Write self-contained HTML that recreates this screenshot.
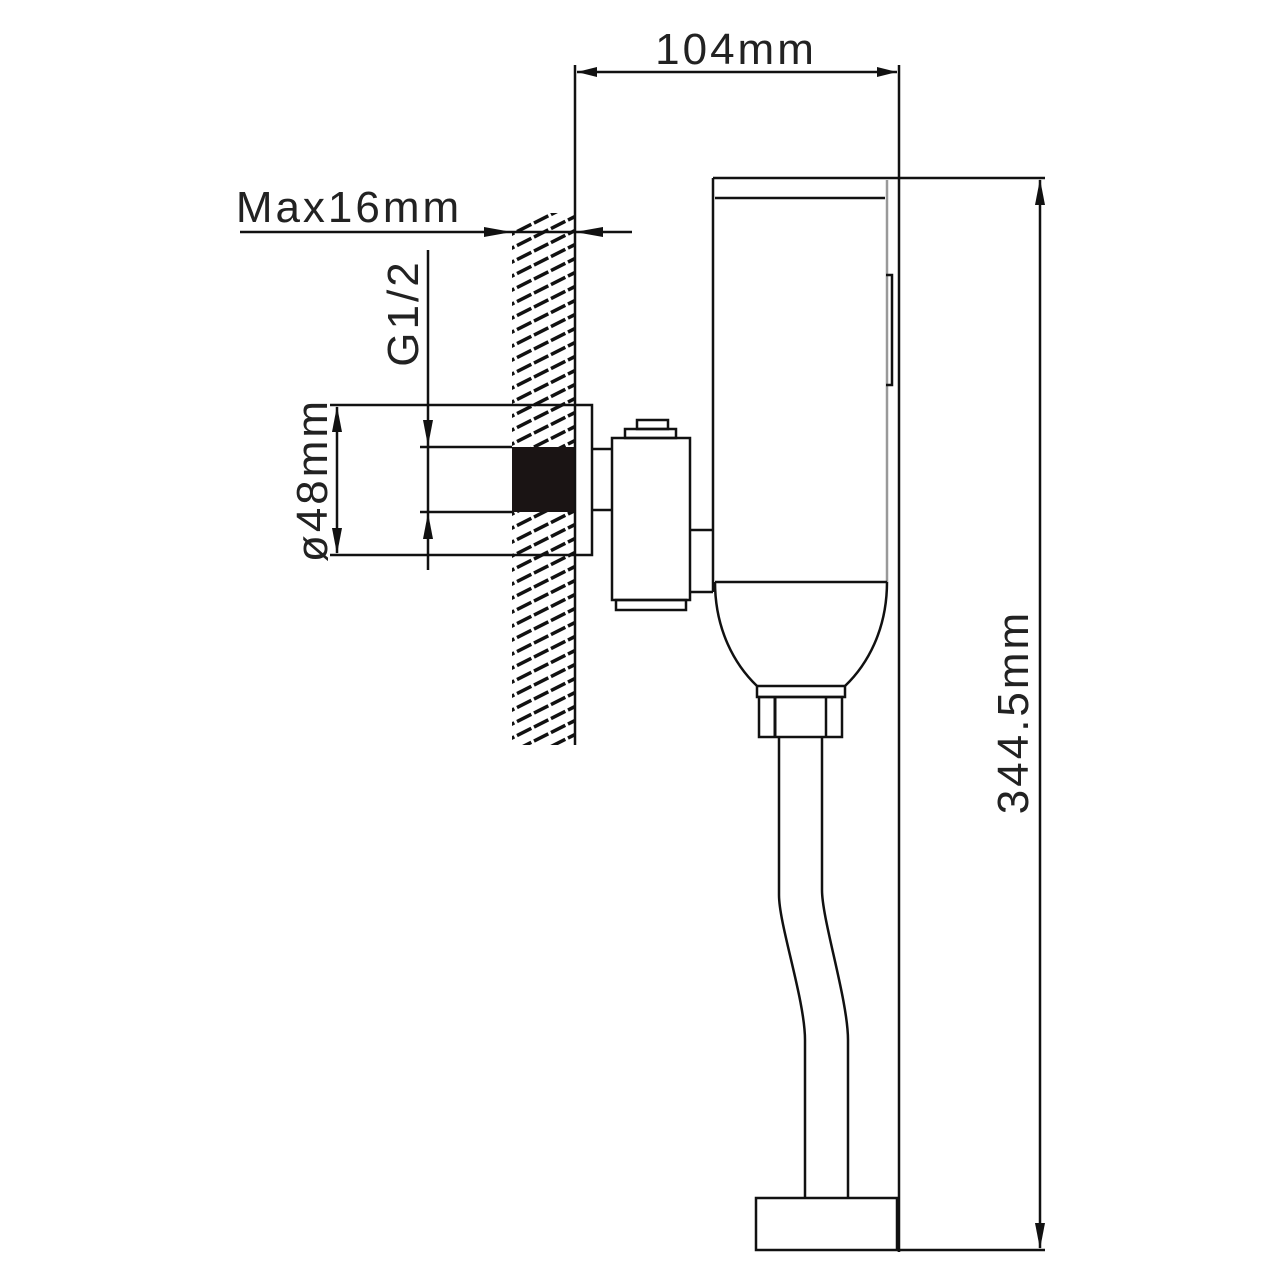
<!DOCTYPE html>
<html><head><style>body{margin:0;background:#fff}svg{display:block}</style></head>
<body>
<svg width="1280" height="1280" viewBox="0 0 1280 1280" xmlns="http://www.w3.org/2000/svg">
<defs>
<clipPath id="w"><rect x="512" y="213" width="62" height="532"/></clipPath>
</defs>
<g stroke="#111" fill="none" stroke-width="2.5">
<g clip-path="url(#w)" stroke-width="3.5" stroke-dasharray="16 3">
<path d="M500,240 l90,-45 M500,254 l90,-45 M500,268 l90,-45 M500,282 l90,-45 M500,296 l90,-45 M500,310 l90,-45 M500,324 l90,-45 M500,338 l90,-45 M500,352 l90,-45 M500,366 l90,-45 M500,380 l90,-45 M500,394 l90,-45 M500,408 l90,-45 M500,422 l90,-45 M500,436 l90,-45 M500,450 l90,-45 M500,464 l90,-45 M500,478 l90,-45 M500,492 l90,-45 M500,506 l90,-45 M500,520 l90,-45 M500,534 l90,-45 M500,548 l90,-45 M500,562 l90,-45 M500,576 l90,-45 M500,590 l90,-45 M500,604 l90,-45 M500,618 l90,-45 M500,632 l90,-45 M500,646 l90,-45 M500,660 l90,-45 M500,674 l90,-45 M500,688 l90,-45 M500,702 l90,-45 M500,716 l90,-45 M500,730 l90,-45 M500,744 l90,-45 M500,758 l90,-45 M500,772 l90,-45 M500,786 l90,-45"/>
</g>
<rect x="512" y="447" width="62" height="65" fill="#1a1414" stroke="none"/>
<line x1="575" y1="65" x2="575" y2="745"/>
<line x1="577" y1="72" x2="897" y2="72"/>
<line x1="899" y1="65" x2="899" y2="1252"/>
<line x1="240" y1="232" x2="632" y2="232"/>
<line x1="428" y1="250" x2="428" y2="570"/>
<line x1="420" y1="447" x2="512" y2="447"/>
<line x1="420" y1="512" x2="512" y2="512"/>
<line x1="337" y1="407" x2="337" y2="553"/>
<polyline points="330,405 592,405 592,555 330,555"/>
<line x1="592" y1="449" x2="612" y2="449"/>
<line x1="592" y1="510" x2="612" y2="510"/>
<rect x="612" y="438" width="78" height="162"/>
<rect x="616" y="600" width="70" height="10"/>
<rect x="625" y="429" width="51" height="9"/>
<rect x="637" y="420" width="31" height="9"/>
<line x1="690" y1="530" x2="713" y2="530"/>
<line x1="690" y1="592" x2="713" y2="592"/>
<line x1="713" y1="178" x2="1045" y2="178"/>
<line x1="713" y1="178" x2="713" y2="592"/>
<line x1="715" y1="198" x2="885" y2="198"/>
<line x1="887" y1="180" x2="887" y2="582" stroke="#999"/>
<polyline points="886,275 892,275 892,385 886,385"/>
<line x1="715" y1="582" x2="887" y2="582"/>
<path d="M715,582 C715,630 735,665 757,686"/>
<path d="M887,582 C887,630 867,665 845,686"/>
<rect x="757" y="686" width="88" height="11"/>
<rect x="759" y="697" width="83" height="40"/>
<line x1="775" y1="697" x2="775" y2="737" stroke-width="3"/>
<line x1="826" y1="697" x2="826" y2="737"/>
<path d="M779,737 L779,895 C779,925 805,1000 805,1040 L805,1198"/>
<path d="M822,737 L822,890 C822,920 848,1000 848,1040 L848,1198"/>
<rect x="756" y="1198" width="141" height="52"/>
<line x1="897" y1="1250" x2="1045" y2="1250"/>
<line x1="1040" y1="180" x2="1040" y2="1248"/>
</g>
<g fill="#111">
<!-- 104 -->
<polygon points="577,72 597,67 597,77"/>
<polygon points="897,72 877,67 877,77"/>
<!-- max16 -->
<polygon points="512,232 484,227 484,237"/>
<polygon points="575,232 603,227 603,237"/>
<!-- G1/2 -->
<polygon points="428,446 423,420 433,420"/>
<polygon points="428,513 423,539 433,539"/>
<!-- 48 -->
<polygon points="337,406 332,432 342,432"/>
<polygon points="337,554 332,528 342,528"/>
<!-- 344.5 -->
<polygon points="1040,179 1035,205 1045,205"/>
<polygon points="1040,1249 1035,1223 1045,1223"/>
</g>
<g font-family="Liberation Sans, sans-serif" fill="#222" font-size="44" style="letter-spacing:3px">
<text x="736" y="64" text-anchor="middle">104mm</text>
<text x="349" y="222" text-anchor="middle">Max16mm</text>
<text transform="translate(418,313) rotate(-90)" text-anchor="middle">G1/2</text>
<text transform="translate(327,480) rotate(-90)" text-anchor="middle">ø48mm</text>
<text transform="translate(1028,712) rotate(-90)" text-anchor="middle">344.5mm</text>
</g>
</svg>
</body></html>
